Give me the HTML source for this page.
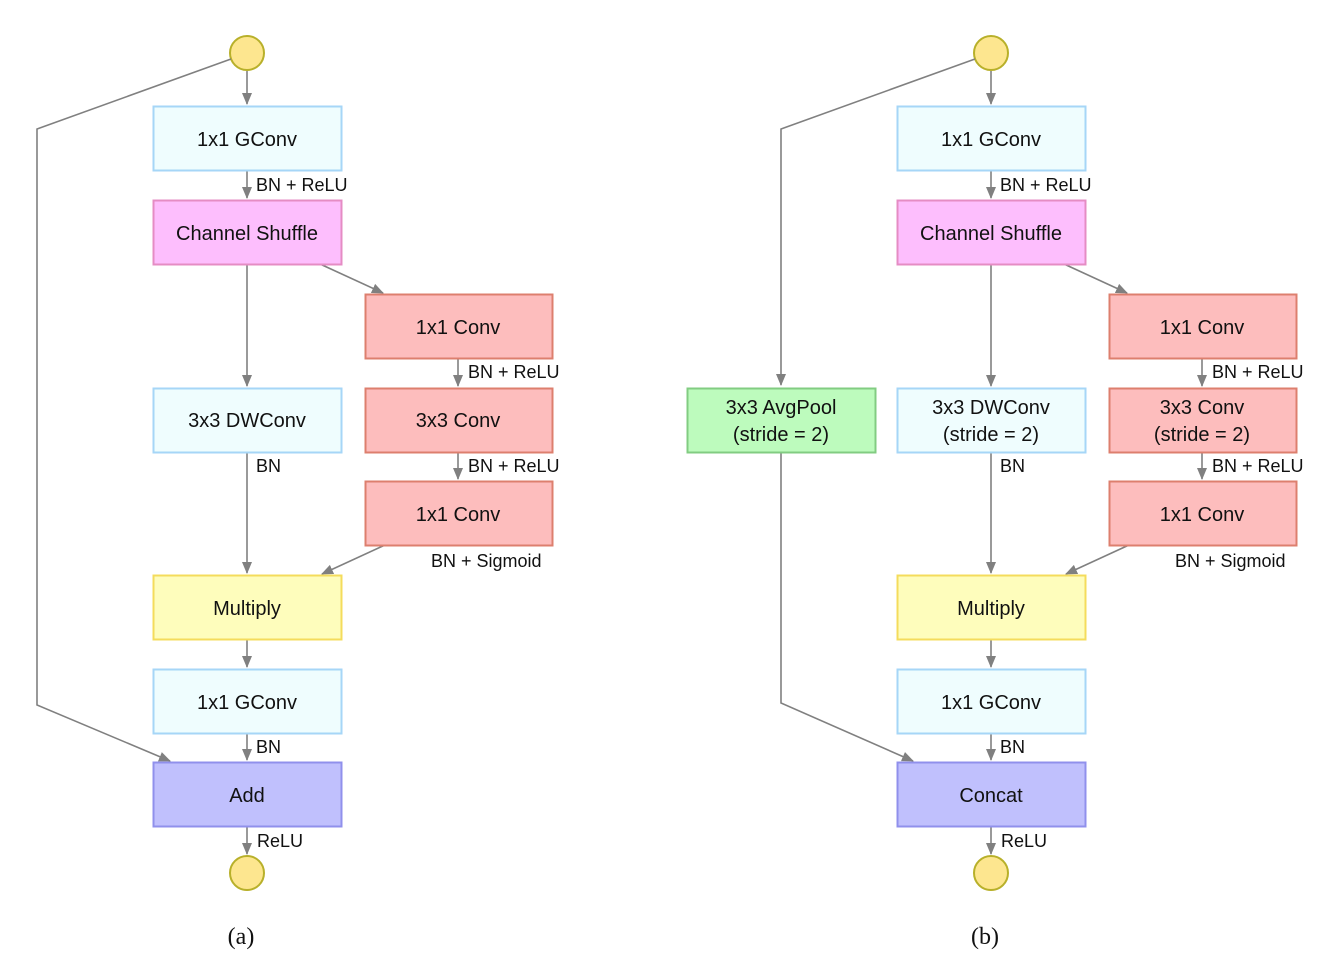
<!DOCTYPE html>
<html><head><meta charset="utf-8"><style>
html,body{margin:0;padding:0;background:#fff}
svg{display:block}
text{font-family:"Liberation Sans",sans-serif;fill:#111}
</style></head><body>
<svg width="1340" height="972" viewBox="0 0 1340 972" xmlns="http://www.w3.org/2000/svg">
<defs>
<marker id="ah" markerWidth="12" markerHeight="10" refX="11" refY="5" orient="auto" markerUnits="userSpaceOnUse">
<path d="M0,0 L12,5 L0,10 z" fill="#808080"/>
</marker>
<g id="panel">
 <g stroke="#808080" stroke-width="1.6" fill="none">
  <line x1="247" y1="71" x2="247" y2="104" marker-end="url(#ah)"/>
  <line x1="247" y1="170" x2="247" y2="198" marker-end="url(#ah)"/>
  <line x1="247" y1="264" x2="247" y2="386" marker-end="url(#ah)"/>
  <line x1="320" y1="264" x2="383" y2="293" marker-end="url(#ah)"/>
  <line x1="458" y1="358" x2="458" y2="386" marker-end="url(#ah)"/>
  <line x1="458" y1="452" x2="458" y2="479" marker-end="url(#ah)"/>
  <line x1="247" y1="452" x2="247" y2="573" marker-end="url(#ah)"/>
  <line x1="385" y1="545" x2="322" y2="574" marker-end="url(#ah)"/>
  <line x1="247" y1="639" x2="247" y2="667" marker-end="url(#ah)"/>
  <line x1="247" y1="733" x2="247" y2="760" marker-end="url(#ah)"/>
  <line x1="247" y1="826" x2="247" y2="854" marker-end="url(#ah)"/>
 </g>
 <circle cx="247" cy="53" r="17" fill="#fde68f" stroke="#b8b02a" stroke-width="2"/>
 <circle cx="247" cy="873" r="17" fill="#fde68f" stroke="#b8b02a" stroke-width="2"/>
 <rect x="153.5" y="106.5" width="188" height="64" fill="#effdfe" stroke="#a6d6f7" stroke-width="2"/>
 <rect x="153.5" y="200.5" width="188" height="64" fill="#fdbefd" stroke="#e58cc4" stroke-width="2"/>
 <rect x="365.5" y="294.5" width="187" height="64" fill="#fdbdbd" stroke="#dd7f6e" stroke-width="2"/>
 <rect x="365.5" y="388.5" width="187" height="64" fill="#fdbdbd" stroke="#dd7f6e" stroke-width="2"/>
 <rect x="365.5" y="481.5" width="187" height="64" fill="#fdbdbd" stroke="#dd7f6e" stroke-width="2"/>
 <rect x="153.5" y="388.5" width="188" height="64" fill="#effdfe" stroke="#a6d6f7" stroke-width="2"/>
 <rect x="153.5" y="575.5" width="188" height="64" fill="#fefdbc" stroke="#f4dc5c" stroke-width="2"/>
 <rect x="153.5" y="669.5" width="188" height="64" fill="#effdfe" stroke="#a6d6f7" stroke-width="2"/>
 <rect x="153.5" y="762.5" width="188" height="64" fill="#c0c0fd" stroke="#9090ec" stroke-width="2"/>
 <g font-size="20" text-anchor="middle">
  <text x="247" y="146">1x1 GConv</text>
  <text x="247" y="240">Channel Shuffle</text>
  <text x="247" y="615">Multiply</text>
  <text x="247" y="709">1x1 GConv</text>
 </g>
 <g font-size="18">
  <text x="256" y="191">BN + ReLU</text>
  <text x="468" y="378">BN + ReLU</text>
  <text x="468" y="472">BN + ReLU</text>
  <text x="431" y="567">BN + Sigmoid</text>
  <text x="256" y="753">BN</text>
  <text x="256" y="472">BN</text>
  <text x="257" y="847">ReLU</text>
 </g>
 <g font-size="20" text-anchor="middle">
  <text x="458" y="334">1x1 Conv</text>
  <text x="458" y="521">1x1 Conv</text>
 </g>
</g>
</defs>

<!-- Panel a -->
<use href="#panel"/>
<g stroke="#808080" stroke-width="1.6" fill="none">
 <polyline points="231,59 37,129 37,705 170,761" marker-end="url(#ah)"/>
</g>
<g font-size="20" text-anchor="middle">
 <text x="247" y="427">3x3 DWConv</text>
 <text x="458" y="427">3x3 Conv</text>
 <text x="247" y="802">Add</text>
</g>
<text x="241" y="944" font-size="24" text-anchor="middle" style="font-family:'Liberation Serif',serif">(a)</text>

<!-- Panel b -->
<g transform="translate(744,0)"><use href="#panel"/></g>
<g stroke="#808080" stroke-width="1.6" fill="none">
 <polyline points="975,59 781,129 781,385" marker-end="url(#ah)"/>
 <polyline points="781,452 781,703 913,761" marker-end="url(#ah)"/>
</g>
<rect x="687.5" y="388.5" width="188" height="64" fill="#bdfbbd" stroke="#82cc82" stroke-width="2"/>
<g font-size="20" text-anchor="middle">
 <text x="781" y="414">3x3 AvgPool</text>
 <text x="781" y="441">(stride = 2)</text>
 <text x="991" y="414">3x3 DWConv</text>
 <text x="991" y="441">(stride = 2)</text>
 <text x="1202" y="414">3x3 Conv</text>
 <text x="1202" y="441">(stride = 2)</text>
 <text x="991" y="802">Concat</text>
</g>
<text x="985" y="944" font-size="24" text-anchor="middle" style="font-family:'Liberation Serif',serif">(b)</text>
</svg>
</body></html>
